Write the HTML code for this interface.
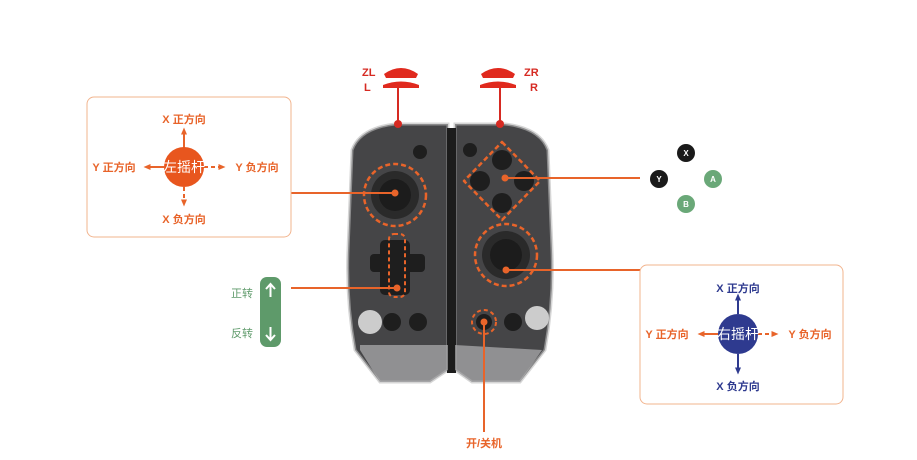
<!DOCTYPE html>
<html><head><meta charset="utf-8"><style>
html,body{margin:0;padding:0;background:#fff;}
svg{display:block;font-family:"Liberation Sans","Noto Sans CJK SC",sans-serif;font-weight:bold;}
</style></head><body>
<svg width="917" height="460" viewBox="0 0 917 460" xmlns="http://www.w3.org/2000/svg">
<defs>
<marker id="ao" markerUnits="userSpaceOnUse" markerWidth="7" markerHeight="7" refX="3.5" refY="3.5" orient="auto"><path d="M0,0.5 L7,3.5 L0,6.5 Z" fill="#e8642a"/></marker>
<marker id="ab" markerUnits="userSpaceOnUse" markerWidth="7" markerHeight="7" refX="3.5" refY="3.5" orient="auto"><path d="M0,0.5 L7,3.5 L0,6.5 Z" fill="#2e3a8f"/></marker>
</defs>
<!-- controller halves -->
<path d="M352,150 Q360,128 395,124 L448,124 L448,370 L430,382 L380,382 L355,350 Q346,300 348,250 Z" fill="#454547"/>
<path d="M352,150 Q360,128 395,124 L448,124 L448,370 L430,382 L380,382 L355,350 Q346,300 348,250 Z" fill="none" stroke="#bbb" stroke-width="3" opacity="0.6"/>
<path d="M548,150 Q540,128 505,124 L455,124 L455,370 L472,382 L520,382 L545,350 Q554,300 552,250 Z" fill="#454547"/>
<path d="M548,150 Q540,128 505,124 L455,124 L455,370 L472,382 L520,382 L545,350 Q554,300 552,250 Z" fill="none" stroke="#bbb" stroke-width="3" opacity="0.6"/>
<rect x="447" y="128" width="9" height="245" fill="#1c1c1c"/>
<path d="M360,350 L380,382 L430,382 L448,370 L448,345 L360,345 Z" fill="#b0b0b2" opacity="0.7"/>
<path d="M455,345 L455,370 L472,382 L520,382 L542,350 Z" fill="#b0b0b2" opacity="0.7"/>
<!-- left stick -->
<circle cx="395" cy="195" r="24" fill="#2a2a2a"/><circle cx="395" cy="195" r="16" fill="#1c1c1c"/>
<circle cx="395" cy="195" r="31" fill="none" stroke="#e8642a" stroke-width="2.5" stroke-dasharray="5,3"/>
<!-- dpad -->
<rect x="380" y="240" width="30" height="55" rx="5" fill="#1e1e1e"/>
<rect x="370" y="254" width="55" height="18" rx="4" fill="#1e1e1e"/>
<rect x="389" y="234" width="16" height="63" rx="5" fill="none" stroke="#e8642a" stroke-width="2" stroke-dasharray="4,3"/>
<circle cx="370" cy="322" r="12" fill="#ccc"/><circle cx="392" cy="322" r="9" fill="#1e1e1e"/><circle cx="418" cy="322" r="9" fill="#1e1e1e"/>
<circle cx="420" cy="152" r="7" fill="#1e1e1e"/>
<!-- right buttons -->
<circle cx="502" cy="160" r="10" fill="#1e1e1e"/><circle cx="480" cy="181" r="10" fill="#1e1e1e"/>
<circle cx="524" cy="181" r="10" fill="#1e1e1e"/><circle cx="502" cy="203" r="10" fill="#1e1e1e"/>
<path d="M502,142 L540,181 L502,220 L464,181 Z" fill="none" stroke="#e8642a" stroke-width="2.5" stroke-dasharray="5,3" stroke-linejoin="round"/>
<circle cx="470" cy="150" r="7" fill="#1e1e1e"/>
<!-- right stick -->
<circle cx="506" cy="255" r="24" fill="#2a2a2a"/><circle cx="506" cy="255" r="16" fill="#1c1c1c"/>
<circle cx="506" cy="255" r="31" fill="none" stroke="#e8642a" stroke-width="2.5" stroke-dasharray="5,3"/>
<circle cx="484" cy="322" r="8" fill="#1e1e1e"/>
<circle cx="484" cy="322" r="12" fill="none" stroke="#e8642a" stroke-width="2" stroke-dasharray="4,3"/>
<circle cx="513" cy="322" r="9" fill="#1e1e1e"/><circle cx="537" cy="318" r="12" fill="#ccc"/>
<!-- triggers -->
<path d="M384,74 Q401,62 418,74 L416,78 L386,78 Z" fill="#e02a1e"/>
<path d="M383,85 Q401,78 419,85 L419,88 L383,88 Z" fill="#e02a1e"/>
<path d="M481,74 Q498,62 515,74 L513,78 L483,78 Z" fill="#e02a1e"/>
<path d="M480,85 Q498,78 516,85 L516,88 L480,88 Z" fill="#e02a1e"/>
<line x1="398" y1="88" x2="398" y2="124" stroke="#d62a22" stroke-width="2"/><circle cx="398" cy="124" r="4" fill="#d62a22"/>
<line x1="500" y1="88" x2="500" y2="124" stroke="#d62a22" stroke-width="2"/><circle cx="500" cy="124" r="4" fill="#d62a22"/>
<g fill="#d62a22" font-size="11"><text x="362" y="76">ZL</text><text x="364" y="91">L</text><text x="524" y="76">ZR</text><text x="530" y="91">R</text></g>
<!-- connectors -->
<g stroke="#e8642a" stroke-width="2">
<line x1="291" y1="193" x2="395" y2="193"/><line x1="291" y1="288" x2="397" y2="288"/>
<line x1="505" y1="178" x2="640" y2="178"/><line x1="506" y1="270" x2="640" y2="270"/>
<line x1="484" y1="322" x2="484" y2="432"/>
</g>
<g fill="#e8642a"><circle cx="395" cy="193" r="3.5"/><circle cx="397" cy="288" r="3.5"/><circle cx="505" cy="178" r="3.5"/><circle cx="506" cy="270" r="3.5"/><circle cx="484" cy="322" r="3.5"/></g>
<text x="484" y="447" fill="#e8642a" font-size="11" text-anchor="middle">开/关机</text>
<!-- left box -->
<rect x="87" y="97" width="204" height="140" rx="7" fill="none" stroke="#f2b48e" stroke-width="1"/>
<g stroke="#e8642a" stroke-width="2">
<line x1="184" y1="148" x2="184" y2="131" marker-end="url(#ao)"/>
<line x1="164" y1="167" x2="147" y2="167" marker-end="url(#ao)"/>
<line x1="204" y1="167" x2="222" y2="167" stroke-dasharray="4,3" marker-end="url(#ao)"/>
<line x1="184" y1="187" x2="184" y2="203" stroke-dasharray="4,3" marker-end="url(#ao)"/>
</g>
<circle cx="184" cy="167" r="20" fill="#e8561e"/>
<text x="184" y="172" fill="#fff" font-size="14" text-anchor="middle" font-weight="normal">左摇杆</text>
<g fill="#e8642a" font-size="11" text-anchor="middle">
<text x="184" y="123">X 正方向</text><text x="114" y="171">Y 正方向</text><text x="257" y="171">Y 负方向</text><text x="184" y="223">X 负方向</text></g>
<!-- green pill -->
<rect x="260" y="277" width="21" height="70" rx="7" fill="#5e9a6a"/>
<g stroke="#fff" stroke-width="2" fill="none"><line x1="270.5" y1="297" x2="270.5" y2="284"/><path d="M266,289 L270.5,284 L275,289"/>
<line x1="270.5" y1="327" x2="270.5" y2="340"/><path d="M266,335 L270.5,340 L275,335"/></g>
<g fill="#5e9a6a" font-size="11" font-weight="normal"><text x="231" y="297">正转</text><text x="231" y="337">反转</text></g>
<!-- ABXY -->
<circle cx="686" cy="153" r="9" fill="#1a1a1a"/><circle cx="659" cy="179" r="9" fill="#1a1a1a"/>
<circle cx="713" cy="179" r="9" fill="#6aa878"/><circle cx="686" cy="204" r="9" fill="#6aa878"/>
<g fill="#fff" font-size="8" text-anchor="middle"><text x="686" y="156">X</text><text x="659" y="182">Y</text><text x="713" y="182">A</text><text x="686" y="207">B</text></g>
<!-- right box -->
<rect x="640" y="265" width="203" height="139" rx="7" fill="none" stroke="#f2b48e" stroke-width="1"/>
<g stroke-width="2">
<line x1="738" y1="314" x2="738" y2="297" stroke="#2e3a8f" marker-end="url(#ab)"/>
<line x1="738" y1="354" x2="738" y2="371" stroke="#2e3a8f" marker-end="url(#ab)"/>
<line x1="718" y1="334" x2="701" y2="334" stroke="#e8642a" marker-end="url(#ao)"/>
<line x1="758" y1="334" x2="775" y2="334" stroke="#e8642a" stroke-dasharray="4,3" marker-end="url(#ao)"/>
</g>
<circle cx="738" cy="334" r="20" fill="#2e3a8f"/>
<text x="738" y="339" fill="#fff" font-size="14" text-anchor="middle" font-weight="normal">右摇杆</text>
<g font-size="11" text-anchor="middle">
<text x="738" y="292" fill="#2e3a8f">X 正方向</text><text x="738" y="390" fill="#2e3a8f">X 负方向</text>
<text x="667" y="338" fill="#e8642a">Y 正方向</text><text x="810" y="338" fill="#e8642a">Y 负方向</text></g>
</svg>
</body></html>
